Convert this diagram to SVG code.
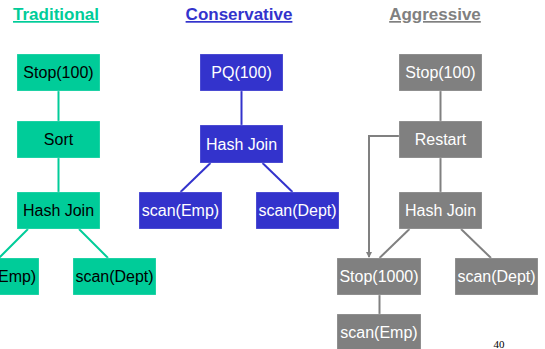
<svg xmlns="http://www.w3.org/2000/svg" width="545" height="349" viewBox="0 0 545 349">
<style>
.t{font-family:"Liberation Sans",Arial,sans-serif;font-size:16px;text-anchor:middle}
.h{font-family:"Liberation Sans",Arial,sans-serif;font-size:17px;font-weight:bold;text-anchor:middle;text-decoration:underline}
.g rect{fill:#00CC99}.g text{fill:#000}
.b rect{fill:#3333CC}.b text{fill:#fff}
.a rect{fill:#808080}.a text{fill:#fff}
rect{stroke:#ffffff;stroke-opacity:0.4;stroke-width:0.6}
.lg{stroke:#00CC99;stroke-width:2;fill:none}
.lb{stroke:#3333CC;stroke-width:2;fill:none}
.la{stroke:#808080;stroke-width:2;fill:none}
</style>
<defs>
<marker id="arr" markerWidth="6" markerHeight="6" refX="5" refY="3" orient="auto" markerUnits="userSpaceOnUse">
<path d="M0,0 L6,3 L0,6 Z" fill="#808080"/>
</marker>
</defs>
<text class="h" x="56" y="20" fill="#00CC99">Traditional</text>
<text class="h" x="239" y="20" fill="#3333CC">Conservative</text>
<text class="h" x="435" y="20" fill="#808080">Aggressive</text>
<g id="connectors">
<line class="lg" x1="58.5" y1="91" x2="58.5" y2="121"/>
<line class="lg" x1="58.5" y1="158" x2="58.5" y2="192"/>
<line class="lg" x1="28" y1="229" x2="-1" y2="258"/>
<line class="lg" x1="79" y1="229" x2="108" y2="258"/>
<line class="lb" x1="241.5" y1="91" x2="241.5" y2="125"/>
<line class="lb" x1="210.5" y1="163" x2="180.5" y2="192"/>
<line class="lb" x1="262.5" y1="163" x2="292.5" y2="192"/>
<line class="la" x1="440.5" y1="91" x2="440.5" y2="121"/>
<line class="la" x1="440.5" y1="158" x2="440.5" y2="192"/>
<line class="la" x1="409.5" y1="229" x2="379.5" y2="258"/>
<line class="la" x1="461" y1="229" x2="491" y2="258"/>
<line class="la" x1="379.5" y1="295" x2="379.5" y2="314"/>
<path class="la" stroke-width="1.5" d="M399,136 H369 V257" marker-end="url(#arr)"/>
</g>
<g id="t-stop" class="g"><rect x="17" y="54" width="83" height="37"/><text class="t" x="58.5" y="78">Stop(100)</text></g>
<g id="t-sort" class="g"><rect x="17" y="121" width="83" height="37"/><text class="t" x="58.5" y="145">Sort</text></g>
<g id="t-hash" class="g"><rect x="17" y="192" width="83" height="37"/><text class="t" x="58.5" y="216">Hash Join</text></g>
<g id="t-emp" class="g"><rect x="-44" y="258" width="83" height="37"/><text class="t" x="-2.5" y="282">scan(Emp)</text></g>
<g id="t-dept" class="g"><rect x="73" y="258" width="83" height="37"/><text class="t" x="114.5" y="282">scan(Dept)</text></g>
<g id="c-pq" class="b"><rect x="200" y="54" width="83" height="37"/><text class="t" x="241.5" y="78">PQ(100)</text></g>
<g id="c-hash" class="b"><rect x="200" y="125" width="83" height="38"/><text class="t" x="241.5" y="150">Hash Join</text></g>
<g id="c-emp" class="b"><rect x="139" y="192" width="83" height="37"/><text class="t" x="180.5" y="216">scan(Emp)</text></g>
<g id="c-dept" class="b"><rect x="256" y="192" width="83" height="37"/><text class="t" x="297.5" y="216">scan(Dept)</text></g>
<g id="a-stop" class="a"><rect x="399" y="54" width="83" height="37"/><text class="t" x="440.5" y="78">Stop(100)</text></g>
<g id="a-restart" class="a"><rect x="399" y="121" width="83" height="37"/><text class="t" x="440.5" y="145">Restart</text></g>
<g id="a-hash" class="a"><rect x="399" y="192" width="83" height="37"/><text class="t" x="440.5" y="216">Hash Join</text></g>
<g id="a-stop1000" class="a"><rect x="337" y="258" width="84" height="37"/><text class="t" x="379" y="282">Stop(1000)</text></g>
<g id="a-dept" class="a"><rect x="455" y="258" width="83" height="37"/><text class="t" x="496.5" y="282">scan(Dept)</text></g>
<g id="a-emp" class="a"><rect x="337" y="314" width="84" height="37"/><text class="t" x="379" y="338">scan(Emp)</text></g>
<text x="499" y="348" font-family="Liberation Serif,serif" font-size="11" text-anchor="middle" fill="#000">40</text>
</svg>
